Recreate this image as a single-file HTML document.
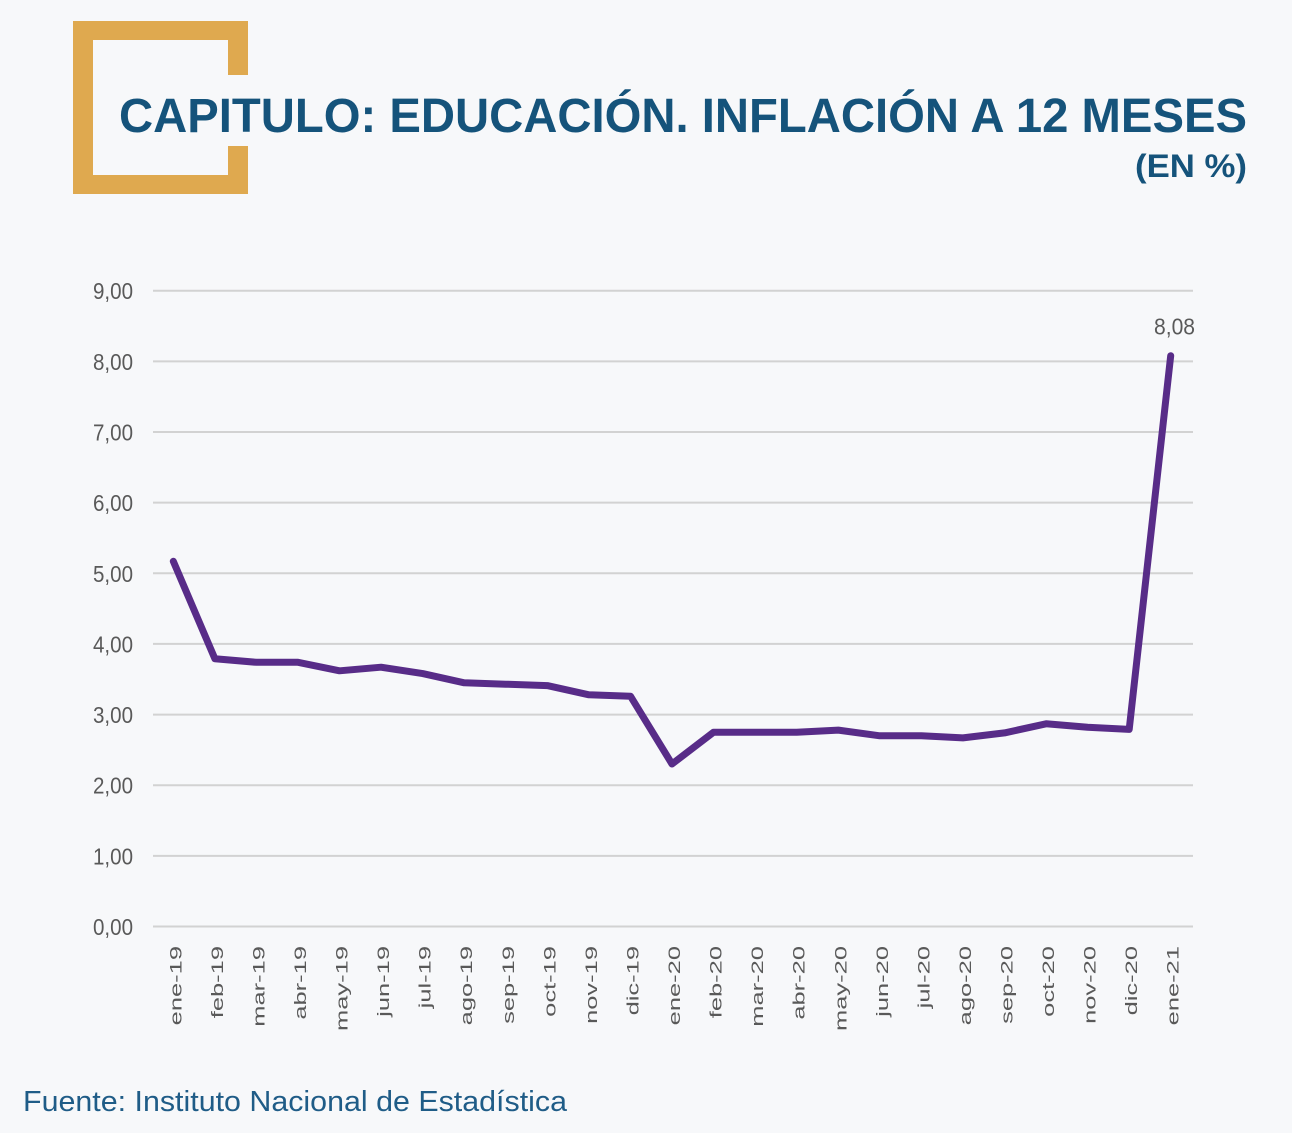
<!DOCTYPE html>
<html>
<head>
<meta charset="utf-8">
<style>
  html, body { margin: 0; padding: 0; background: #f7f8fa; }
  body { width: 1292px; height: 1133px; overflow: hidden; }
  svg { display: block; }
  text { font-family: "Liberation Sans", "DejaVu Sans", sans-serif; }
</style>
</head>
<body>
<svg width="1292" height="1133" viewBox="0 0 1292 1133" xmlns="http://www.w3.org/2000/svg">
  <rect x="0" y="0" width="1292" height="1133" fill="#f7f8fa"/>

  <!-- Bracket -->
  <g fill="#dfa94f">
    <rect x="73" y="21" width="20" height="173"/>
    <rect x="73" y="21" width="175" height="19"/>
    <rect x="73" y="175" width="175" height="19"/>
    <rect x="228" y="21" width="20" height="54"/>
    <rect x="228" y="146" width="20" height="48"/>
  </g>

  <!-- Title -->
  <text x="119" y="132" font-size="48" font-weight="bold" fill="#15537b" textLength="1128" lengthAdjust="spacingAndGlyphs">CAPITULO: EDUCACIÓN. INFLACIÓN A 12 MESES</text>
  <text x="1247" y="177" font-size="32" font-weight="bold" fill="#15537b" text-anchor="end" textLength="112" lengthAdjust="spacingAndGlyphs">(EN %)</text>

  <!-- Gridlines -->
  <g stroke="#d2d2d2" stroke-width="2">
    <line x1="153" y1="290.7" x2="1193" y2="290.7"/>
    <line x1="153" y1="361.4" x2="1193" y2="361.4"/>
    <line x1="153" y1="432.0" x2="1193" y2="432.0"/>
    <line x1="153" y1="502.6" x2="1193" y2="502.6"/>
    <line x1="153" y1="573.3" x2="1193" y2="573.3"/>
    <line x1="153" y1="643.9" x2="1193" y2="643.9"/>
    <line x1="153" y1="714.6" x2="1193" y2="714.6"/>
    <line x1="153" y1="785.2" x2="1193" y2="785.2"/>
    <line x1="153" y1="855.9" x2="1193" y2="855.9"/>
    <line x1="153" y1="926.5" x2="1193" y2="926.5"/>
  </g>

  <!-- Y labels -->
  <g font-size="23" fill="#595959" text-anchor="end">
    <text x="133" y="299.2" textLength="40" lengthAdjust="spacingAndGlyphs">9,00</text>
    <text x="133" y="369.9" textLength="40" lengthAdjust="spacingAndGlyphs">8,00</text>
    <text x="133" y="440.5" textLength="40" lengthAdjust="spacingAndGlyphs">7,00</text>
    <text x="133" y="511.1" textLength="40" lengthAdjust="spacingAndGlyphs">6,00</text>
    <text x="133" y="581.8" textLength="40" lengthAdjust="spacingAndGlyphs">5,00</text>
    <text x="133" y="652.4" textLength="40" lengthAdjust="spacingAndGlyphs">4,00</text>
    <text x="133" y="723.1" textLength="40" lengthAdjust="spacingAndGlyphs">3,00</text>
    <text x="133" y="793.7" textLength="40" lengthAdjust="spacingAndGlyphs">2,00</text>
    <text x="133" y="864.4" textLength="40" lengthAdjust="spacingAndGlyphs">1,00</text>
    <text x="133" y="935.0" textLength="40" lengthAdjust="spacingAndGlyphs">0,00</text>
  </g>

  <!-- Data line -->
  <polyline fill="none" stroke="#582c88" stroke-width="7" stroke-linejoin="round" stroke-linecap="round"
    points="173.3,561.3 214.9,658.8 256.4,662.3 298.0,662.3 339.5,670.8 381.1,667.2 422.7,673.6 464.2,682.8 505.8,684.2 547.3,685.6 588.9,694.8 630.5,696.2 672.0,764.0 713.6,732.2 755.1,732.2 796.7,732.2 838.3,730.1 879.8,735.8 921.4,735.8 962.9,737.9 1004.5,732.9 1046.1,723.8 1087.6,727.3 1129.2,729.4 1170.7,355.7"/>

  <!-- Data label -->
  <text x="1174.5" y="334.3" font-size="23" fill="#595959" text-anchor="middle" textLength="41" lengthAdjust="spacingAndGlyphs">8,08</text>

  <!-- X labels -->
  <g font-size="17" fill="#595959" text-anchor="end">
    <text transform="translate(181.3,946) rotate(-90) scale(1.5,1)">ene-19</text>
    <text transform="translate(222.9,946) rotate(-90) scale(1.5,1)">feb-19</text>
    <text transform="translate(264.4,946) rotate(-90) scale(1.5,1)">mar-19</text>
    <text transform="translate(306.0,946) rotate(-90) scale(1.5,1)">abr-19</text>
    <text transform="translate(347.5,946) rotate(-90) scale(1.5,1)">may-19</text>
    <text transform="translate(389.1,946) rotate(-90) scale(1.5,1)">jun-19</text>
    <text transform="translate(430.7,946) rotate(-90) scale(1.5,1)">jul-19</text>
    <text transform="translate(472.2,946) rotate(-90) scale(1.5,1)">ago-19</text>
    <text transform="translate(513.8,946) rotate(-90) scale(1.5,1)">sep-19</text>
    <text transform="translate(555.3,946) rotate(-90) scale(1.5,1)">oct-19</text>
    <text transform="translate(596.9,946) rotate(-90) scale(1.5,1)">nov-19</text>
    <text transform="translate(638.5,946) rotate(-90) scale(1.5,1)">dic-19</text>
    <text transform="translate(680.0,946) rotate(-90) scale(1.5,1)">ene-20</text>
    <text transform="translate(721.6,946) rotate(-90) scale(1.5,1)">feb-20</text>
    <text transform="translate(763.1,946) rotate(-90) scale(1.5,1)">mar-20</text>
    <text transform="translate(804.7,946) rotate(-90) scale(1.5,1)">abr-20</text>
    <text transform="translate(846.3,946) rotate(-90) scale(1.5,1)">may-20</text>
    <text transform="translate(887.8,946) rotate(-90) scale(1.5,1)">jun-20</text>
    <text transform="translate(929.4,946) rotate(-90) scale(1.5,1)">jul-20</text>
    <text transform="translate(970.9,946) rotate(-90) scale(1.5,1)">ago-20</text>
    <text transform="translate(1012.5,946) rotate(-90) scale(1.5,1)">sep-20</text>
    <text transform="translate(1054.1,946) rotate(-90) scale(1.5,1)">oct-20</text>
    <text transform="translate(1095.6,946) rotate(-90) scale(1.5,1)">nov-20</text>
    <text transform="translate(1137.2,946) rotate(-90) scale(1.5,1)">dic-20</text>
    <text transform="translate(1178.7,946) rotate(-90) scale(1.5,1)">ene-21</text>
  </g>

  <!-- Footer -->
  <text x="23" y="1111" font-size="29" fill="#1f5c87" textLength="544" lengthAdjust="spacingAndGlyphs">Fuente: Instituto Nacional de Estadística</text>
</svg>
</body>
</html>
